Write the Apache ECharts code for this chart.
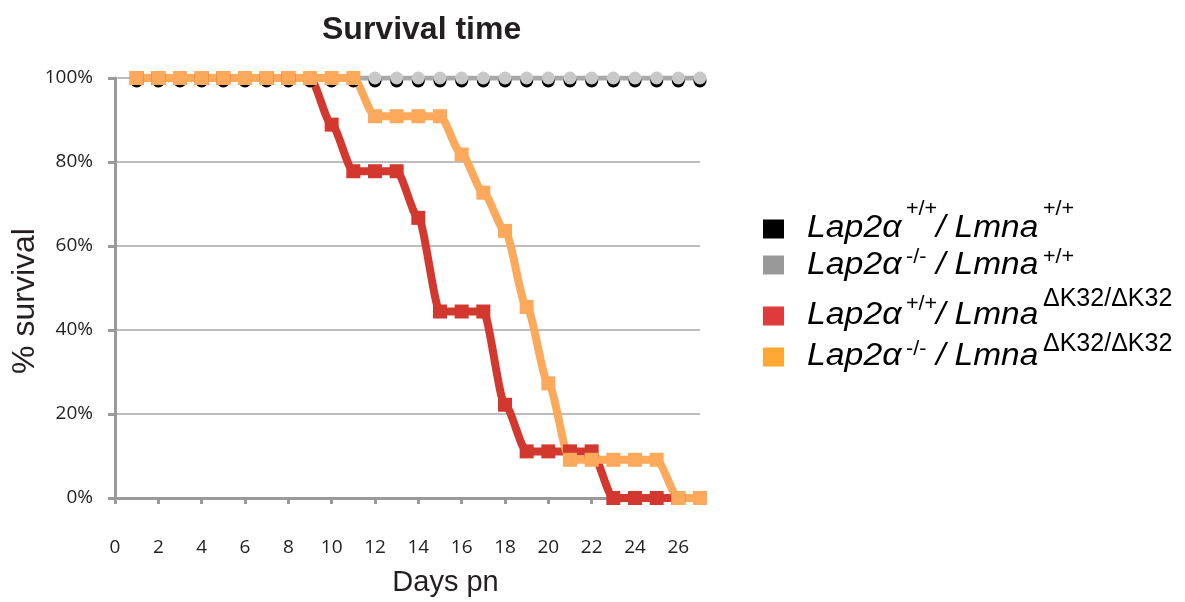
<!DOCTYPE html>
<html>
<head>
<meta charset="utf-8">
<script src="https://cdn.jsdelivr.net/npm/echarts@6/dist/echarts.min.js"></script>
<style>
  html, body { margin: 0; padding: 0; background: #fff; }
  #graph { width: 1185px; height: 602px; }
</style>
</head>
<body>
<div id="graph"></div>
<script>
// days post natal, 1..27
var days = [1, 2, 3, 4, 5, 6, 7, 8, 9, 10, 11, 12, 13, 14, 15, 16, 17, 18, 19, 20, 21, 22, 23, 24, 25, 26, 27];
// % survival per genotype
var wtWt = [100, 100, 100, 100, 100, 100, 100, 100, 100, 100, 100, 100, 100, 100, 100, 100, 100, 100, 100, 100, 100, 100, 100, 100, 100, 100, 100];
var koWt = [100, 100, 100, 100, 100, 100, 100, 100, 100, 100, 100, 100, 100, 100, 100, 100, 100, 100, 100, 100, 100, 100, 100, 100, 100, 100, 100];
var wtK32 = [100, 100, 100, 100, 100, 100, 100, 100, 100, 88.9, 77.8, 77.8, 77.8, 66.7, 44.4, 44.4, 44.4, 22.2, 11.1, 11.1, 11.1, 11.1, 0, 0, 0, 0, 0];
var koK32 = [100, 100, 100, 100, 100, 100, 100, 100, 100, 100, 100, 90.9, 90.9, 90.9, 90.9, 81.8, 72.7, 63.6, 45.5, 27.3, 9.1, 9.1, 9.1, 9.1, 9.1, 0, 0];
var xTicks = [0, 2, 4, 6, 8, 10, 12, 14, 16, 18, 20, 22, 24, 26];
// genotype labels: Lap2α<sup1> / Lmna<sup2>
var lapSup = ['+/+', '-/-', '+/+', '-/-'];
var lmnaSup = ['+/+', '+/+', 'ΔK32/ΔK32', 'ΔK32/ΔK32'];
var legendColors = ['#000000', '#999999', '#df3b3a', '#ffa733'];

var zip = arr => arr.map((v, i) => [days[i], v]);

// legend drawn by hand (italic names with superscripts)
var rowIcon = [229, 265, 316, 357];
var rowBig = [228, 265, 315, 356];
var rowSup1 = [209, 257, 304, 349];
var rowSup2 = [209, 257, 299, 344];
var legendGraphic = [];
lapSup.forEach(function(s, i) {
  var kSup = lmnaSup[i].length > 3;
  legendGraphic.push(
    { type: 'rect', shape: { x: 763, y: rowIcon[i] - 9.5, width: 21, height: 19 }, style: { fill: legendColors[i] } },
    { type: 'text', x: 807, y: rowBig[i], scaleX: 1.09,
      style: { text: 'Lap2α', font: 'italic 31px "Liberation Sans"', fill: '#000', verticalAlign: 'middle' } },
    { type: 'text', x: 906, y: rowSup1[i], scaleX: 1.08,
      style: { text: s, font: '20px "Liberation Sans"', fill: '#000', verticalAlign: 'middle' } },
    { type: 'text', x: 936, y: rowBig[i], scaleX: 1.08,
      style: { text: '/ Lmna', font: 'italic 31px "Liberation Sans"', fill: '#000', verticalAlign: 'middle' } },
    { type: 'text', x: 1043, y: rowSup2[i], scaleX: kSup ? 1.0 : 1.08,
      style: { text: lmnaSup[i], font: (kSup ? 25 : 20) + 'px "Liberation Sans"', fill: '#000', verticalAlign: 'middle' } }
  );
});

var chart = echarts.init(document.getElementById('graph'));

var option = {
  animation: false,
  title: {
    text: 'Survival time',
    left: 317,
    top: 9,
    textStyle: { fontFamily: 'Liberation Sans', fontWeight: 'bold', fontSize: 32, color: '#231f20' }
  },
  grid: { left: 115, right: 485, top: 78, bottom: 100 },
  graphic: legendGraphic,
  xAxis: {
    type: 'value',
    min: 0,
    max: 27,
    name: 'Days pn',
    nameLocation: 'middle',
    nameGap: 70,
    nameTextStyle: { fontFamily: 'Liberation Sans', fontSize: 29, color: '#231f20', padding: [0, 0, 0, 76] },
    axisLine: { lineStyle: { color: '#9a9a9a', width: 3 } },
    axisTick: { show: true, length: 6, customValues: xTicks, lineStyle: { color: '#9a9a9a', width: 3 } },
    axisLabel: { customValues: xTicks, margin: 40, fontFamily: 'Open Sans', fontSize: 19, color: '#222' },
    splitLine: { show: false }
  },
  yAxis: {
    type: 'value',
    min: 0,
    max: 100,
    interval: 20,
    name: '% survival',
    nameLocation: 'middle',
    nameGap: 66,
    nameRotate: 90,
    nameTextStyle: { fontFamily: 'Liberation Sans', fontSize: 32, color: '#231f20', padding: [0, 26, 0, 0] },
    axisLine: { show: true, lineStyle: { color: '#9a9a9a', width: 3 } },
    axisTick: { show: true, length: 7, lineStyle: { color: '#9a9a9a', width: 3 } },
    axisLabel: { formatter: '{value}%', margin: 22, fontFamily: 'Open Sans', fontSize: 19, color: '#222' },
    splitLine: { lineStyle: { color: '#bdbdbd', width: 2 } }
  },
  series: [
    {
      name: 'Lap2α+/+ / Lmna+/+', type: 'line', data: zip(wtWt),
      symbol: 'circle', symbolSize: 13, symbolOffset: [0, 3],
      itemStyle: { color: '#000' },
      lineStyle: { color: '#555', width: 4 }
    },
    {
      name: 'Lap2α-/- / Lmna+/+', type: 'line', data: zip(koWt),
      symbol: 'circle', symbolSize: 13,
      itemStyle: { color: '#c8c8c8' },
      lineStyle: { color: '#a8a8a8', width: 5 }
    },
    {
      name: 'Lap2α+/+ / LmnaΔK32/ΔK32', type: 'line', data: zip(wtK32),
      smooth: 0.25, smoothMonotone: 'x',
      symbol: 'rect', symbolSize: 14,
      itemStyle: { color: '#d3382f' },
      lineStyle: { color: '#d3382f', width: 8 }
    },
    {
      name: 'Lap2α-/- / LmnaΔK32/ΔK32', type: 'line', data: zip(koK32),
      smooth: 0.25, smoothMonotone: 'x',
      symbol: 'rect', symbolSize: 14,
      itemStyle: { color: '#fca95b' },
      lineStyle: { color: '#fca95b', width: 8 }
    }
  ]
};

chart.setOption(option);
</script>
</body>
</html>
